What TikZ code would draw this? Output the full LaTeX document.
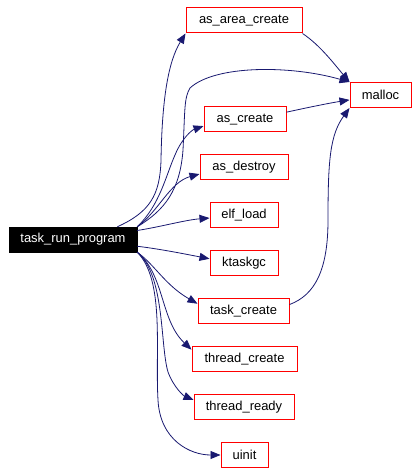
\documentclass[tikz,border=0pt]{standalone}
\usepackage{fontspec}
\setmainfont{Liberation Sans}
\usetikzlibrary{arrows.meta}
\definecolor{edgeblue}{RGB}{25,25,112}
\tikzset{
  fn/.style={draw=red, line width=1bp, fill=white, inner sep=0pt, minimum height=25bp,
    font=\fontsize{13}{15}\selectfont, text=black},
  rootfn/.style={fill=black, draw=black, inner sep=0pt, minimum height=25bp,
    font=\fontsize{13}{15}\selectfont, text=white},
  call/.style={draw=edgeblue, line width=0.8bp, -{Triangle[length=10bp,width=8bp]}, fill=none},
}
\begin{document}
\begin{tikzpicture}[x=1bp,y=-1bp]
\useasboundingbox (0,0) rectangle (418,474);
% nodes
\node[rootfn, minimum width=128bp] (trp) at (73,239.5) {task\_run\_program};
\node[fn, minimum width=116bp] (aac) at (244,20.5) {as\_area\_create};
\node[fn, minimum width=61bp] (malloc) at (380.5,95) {malloc};
\node[fn, minimum width=82bp] (asc) at (245,119.5) {as\_create};
\node[fn, minimum width=88bp] (asd) at (244,167) {as\_destroy};
\node[fn, minimum width=68bp] (elf) at (244,215) {elf\_load};
\node[fn, minimum width=68bp] (ktg) at (244,263) {ktaskgc};
\node[fn, minimum width=91bp] (tc) at (243.5,311) {task\_create};
\node[fn, minimum width=105bp] (thc) at (244.5,359) {thread\_create};
\node[fn, minimum width=100bp] (thr) at (244,407) {thread\_ready};
\node[fn, minimum width=47bp] (ui) at (244.5,455) {uinit};
% edges
\draw[call] (trp.16) .. controls (150,212) and (160,195) .. (161,160)
   .. controls (162,100) and (168,62) .. (aac.south west);
\draw[call] (trp.north east) .. controls (165,210) and (180,190) .. (183,150)
   .. controls (185,110) and (184,98) .. (190,88)
   .. controls (215,65) and (290,65) .. (malloc.north west);
\draw[call] (trp.north east) .. controls (160,205) and (166,175) .. (175,155)
   .. controls (182,138) and (192,130) .. (asc.189);
\draw[call] (trp.north east) .. controls (158,212) and (170,182) .. (asd.189);
\draw[call] (trp.8) .. controls (160,227) and (185,220) .. (elf.185);
\draw[call] (trp.354) .. controls (160,249) and (185,254) .. (ktg.173);
\draw[call] (trp.south east) .. controls (155,265) and (165,285) .. (tc.171);
\draw[call] (trp.south east) .. controls (165,275) and (160,320) .. (thc.170);
\draw[call] (trp.south east) .. controls (165,275) and (160,345) .. (168,372)
   .. controls (174,388) and (184,396) .. (thr.172);
\draw[call] (trp.south east) .. controls (165,280) and (155,350) .. (158,400)
   .. controls (160,440) and (190,455) .. (ui.west);
\draw[call] (aac.south east) .. controls (320,45) and (335,65) .. (malloc.north west);
\draw[call] (asc.10) .. controls (310,107) and (330,103) .. (malloc.189);
\draw[call] (tc.8) .. controls (315,295) and (328,270) .. (328,220)
   .. controls (328,160) and (330,135) .. (malloc.south west);
\end{tikzpicture}
\end{document}
